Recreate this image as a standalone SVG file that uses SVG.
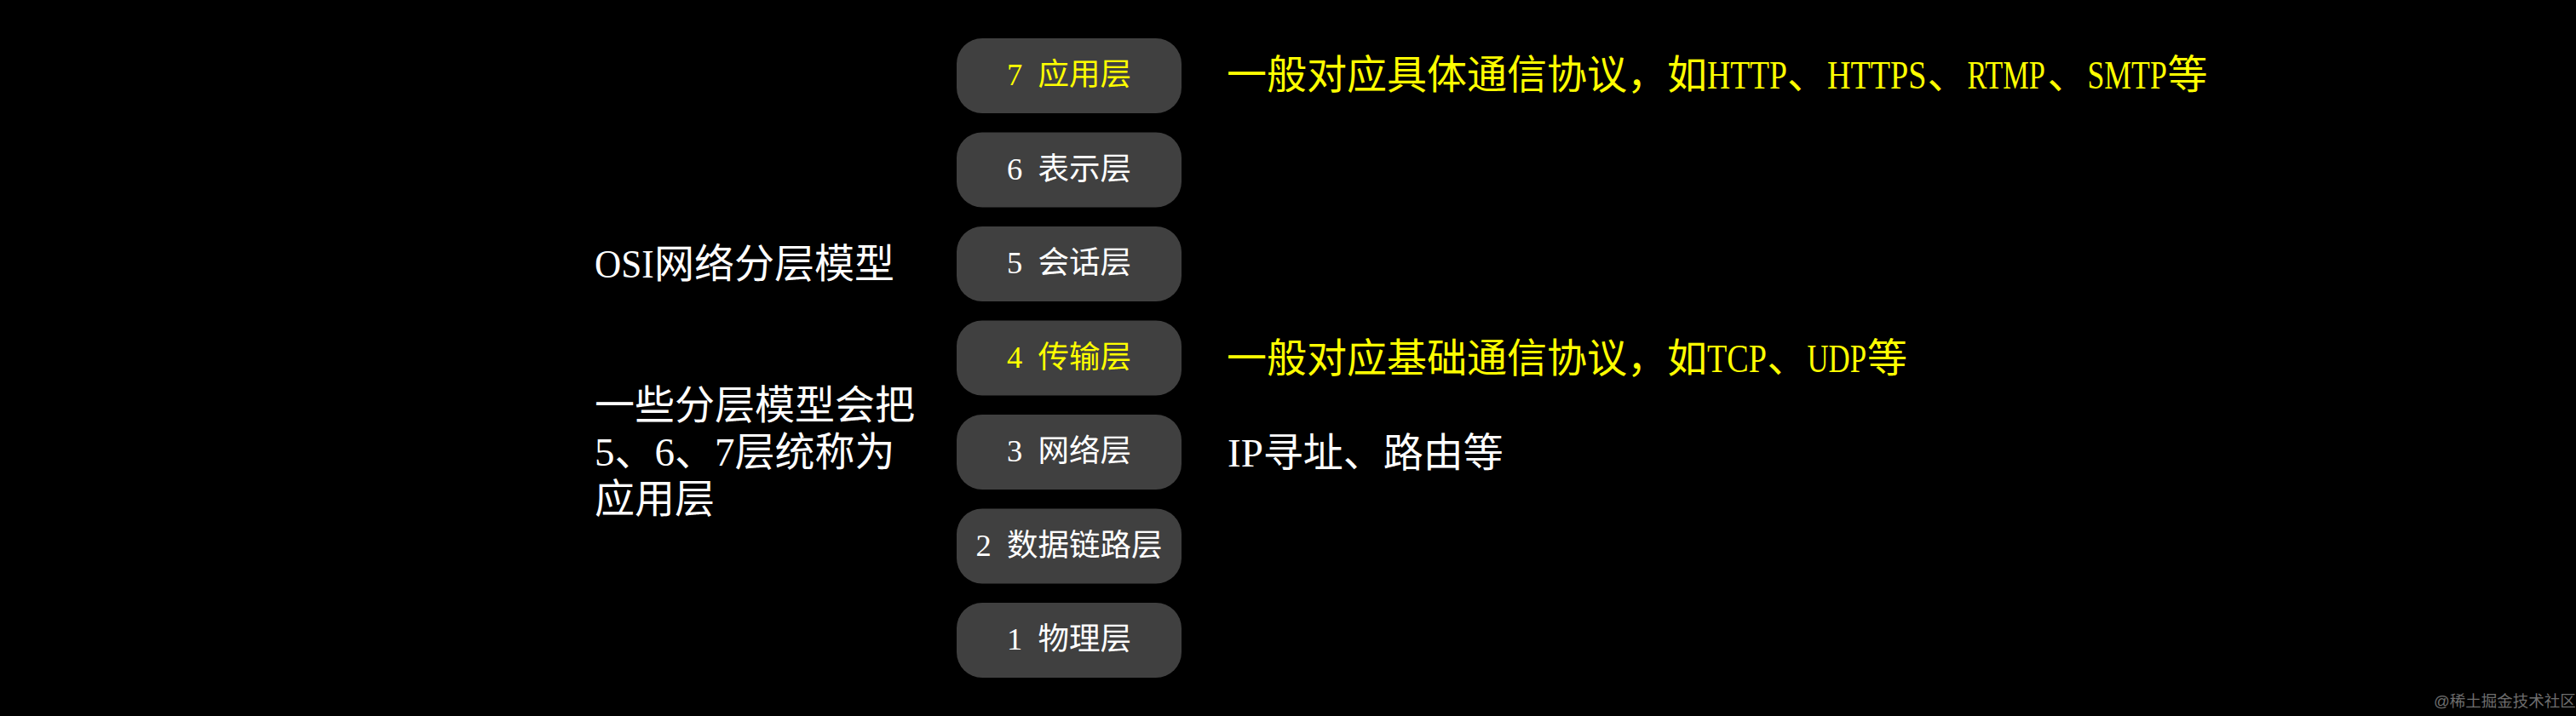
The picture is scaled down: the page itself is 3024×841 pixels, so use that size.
<svg xmlns="http://www.w3.org/2000/svg" width="3024" height="841" viewBox="0 0 3024 841">
<style>
.bg{fill:#000000}
.box{fill:#404040}
.t{font-family:"Liberation Serif","Noto Sans CJK SC",serif}
.lbl{font-size:36.5px;text-anchor:middle;word-spacing:9px}
.big{font-size:47px}
.w{fill:#ffffff}
.y{fill:#ffff00}
.wm{font-family:"Liberation Sans","Noto Sans CJK SC",sans-serif;font-size:18.5px;fill:#6e6e6e}
</style>
<rect class="bg" x="0" y="0" width="3024" height="841"/>
<g id="connectors"/>
<g id="layer7"><rect class="box" x="1123" y="45" width="264" height="88" rx="30"/><text class="t lbl y" x="1255" y="100">7 应用层</text></g>
<g id="layer6"><rect class="box" x="1123" y="155.5" width="264" height="88" rx="30"/><text class="t lbl w" x="1255" y="210.5">6 表示层</text></g>
<g id="layer5"><rect class="box" x="1123" y="266" width="264" height="88" rx="30"/><text class="t lbl w" x="1255" y="321">5 会话层</text></g>
<g id="layer4"><rect class="box" x="1123" y="376.5" width="264" height="88" rx="30"/><text class="t lbl y" x="1255" y="431.5">4 传输层</text></g>
<g id="layer3"><rect class="box" x="1123" y="487" width="264" height="88" rx="30"/><text class="t lbl w" x="1255" y="542">3 网络层</text></g>
<g id="layer2"><rect class="box" x="1123" y="597.5" width="264" height="88" rx="30"/><text class="t lbl w" x="1255" y="652.5">2 数据链路层</text></g>
<g id="layer1"><rect class="box" x="1123" y="708" width="264" height="88" rx="30"/><text class="t lbl w" x="1255" y="763">1 物理层</text></g>
<g id="title"><text class="t big w" transform="translate(698,326) scale(0.92,1)" x="0" y="0">OSI</text><text class="t big w" x="768" y="326">网络分层模型</text></g>
<g id="note-left"><text class="t big w" x="698" y="492">一些分层模型会把</text><text class="t big w" x="698" y="547">5、6、7层统称为</text><text class="t big w" x="698" y="602">应用层</text></g>
<g id="note7">
<text class="t big y" x="1440" y="104">一般对应具体通信协议，如</text>
<text class="t big y" transform="translate(2004,104) scale(0.8,1)" x="0" y="0">HTTP</text>
<text class="t big y" x="2098" y="104">、</text>
<text class="t big y" transform="translate(2145,104) scale(0.81,1)" x="0" y="0">HTTPS</text>
<text class="t big y" x="2262.5" y="104">、</text>
<text class="t big y" transform="translate(2309.5,104) scale(0.73,1)" x="0" y="0">RTMP</text>
<text class="t big y" x="2403.5" y="104">、</text>
<text class="t big y" transform="translate(2450.5,104) scale(0.76,1)" x="0" y="0">SMTP</text>
<text class="t big y" x="2544.5" y="104">等</text>
</g>
<g id="note4">
<text class="t big y" x="1440" y="437">一般对应基础通信协议，如</text>
<text class="t big y" transform="translate(2004,437) scale(0.81,1)" x="0" y="0">TCP</text>
<text class="t big y" x="2074.5" y="437">、</text>
<text class="t big y" transform="translate(2121.5,437) scale(0.74,1)" x="0" y="0">UDP</text>
<text class="t big y" x="2192" y="437">等</text>
</g>
<g id="note3"><text class="t big w" x="1441" y="548">IP寻址、路由等</text></g>
<g id="watermark"><text class="wm" x="2857" y="830">@稀土掘金技术社区</text></g>
</svg>
